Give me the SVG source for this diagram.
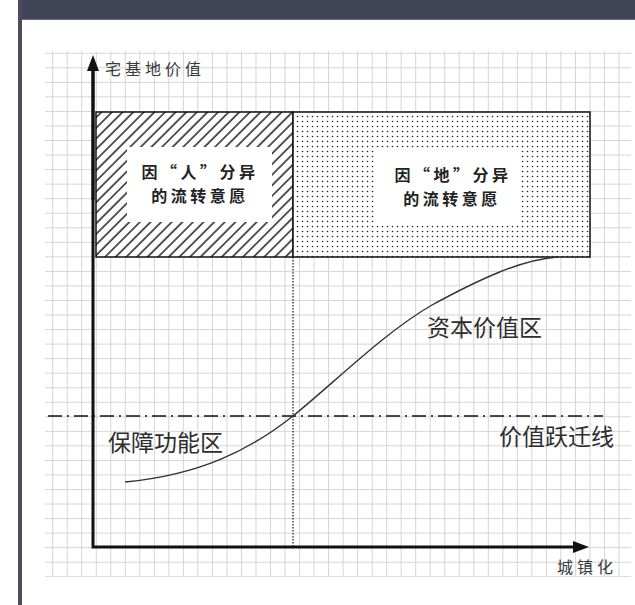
<svg xmlns="http://www.w3.org/2000/svg" width="635" height="605" viewBox="0 0 635 605">
  <style>
    .axis { stroke: #111; stroke-width: 3; fill: none; }
    .box { stroke: #111; stroke-width: 1.5; }
    .boxlbl { font-family: "Noto Sans CJK SC", "Noto Sans", sans-serif; font-size: 16px; font-weight: bold; fill: #222; letter-spacing: 3.5px; text-anchor: middle; }
    .axlbl { font-family: "Noto Sans CJK SC", "Noto Sans", sans-serif; font-size: 16px; fill: #3a3a3a; letter-spacing: 4px; }
    .zone { font-family: "Noto Sans CJK SC", "Noto Sans", sans-serif; font-size: 23px; fill: #2e2e2e; }
  </style>
  <defs>
    <pattern id="grid" patternUnits="userSpaceOnUse" x="52.2" y="52.8" width="14.52" height="14.54">
      <path d="M0.5 0 V14.54 M0 0.5 H14.52" stroke="#d4d4d4" stroke-width="1" fill="none"/>
    </pattern>
    <pattern id="hatch" patternUnits="userSpaceOnUse" width="7.5" height="7.5" patternTransform="rotate(45)">
      <rect width="7.5" height="7.5" fill="#fff"/>
      <line x1="1" y1="0" x2="1" y2="7.5" stroke="#222" stroke-width="1.5"/>
    </pattern>
    <pattern id="dots" patternUnits="userSpaceOnUse" x="295" y="114" width="5" height="5">
      <rect width="5" height="5" fill="#fff"/>
      <circle cx="2.5" cy="2.5" r="0.8" fill="#222"/>
    </pattern>
    <marker id="arrow" markerUnits="userSpaceOnUse" markerWidth="16" markerHeight="12" refX="0" refY="6" orient="auto">
      <path d="M0,0 L16,6 L0,12 z" fill="#111"/>
    </marker>
  </defs>

  <!-- frame -->
  <rect x="0" y="0" width="635" height="605" fill="#fff"/>
  <rect x="18" y="0" width="617" height="19" fill="#414356"/>
  <rect x="18" y="19" width="617" height="1" fill="#6b6d7d"/>
  <rect x="18" y="0" width="4" height="605" fill="#4a4c5f"/>

  <!-- grid -->
  <rect x="45" y="51" width="586" height="526" fill="url(#grid)"/>

  <!-- boxes -->
  <g id="box-ren">
    <rect class="box" x="96" y="112" width="197" height="145" fill="url(#hatch)"/>
    <rect x="127" y="147" width="145" height="75" fill="#fff"/>
    <text class="boxlbl" x="200" y="178">因“人”分异</text>
    <text class="boxlbl" x="200" y="202">的流转意愿</text>
  </g>
  <g id="box-di">
    <rect class="box" x="293" y="112" width="297" height="145" fill="url(#dots)"/>
    <rect x="375" y="149" width="145" height="74" fill="#fff"/>
    <text class="boxlbl" x="453" y="181">因“地”分异</text>
    <text class="boxlbl" x="452" y="205">的流转意愿</text>
  </g>

  <g id="connectors">
    <!-- vertical dotted divider -->
    <line x1="293" y1="257" x2="293" y2="546" stroke="#222" stroke-width="1.3" stroke-dasharray="1.5 1.5"/>
    <!-- value transition line -->
    <line x1="48" y1="416" x2="603" y2="416" stroke="#111" stroke-width="1.5" stroke-dasharray="14 5 2 5"/>
    <!-- S curve -->
    <path d="M125,482 C200,475 250,450 293,416 C335,382 385,332 432,305 C478,280 520,260 557,257" fill="none" stroke="#333" stroke-width="1.4"/>
    <!-- axes -->
    <path class="axis" d="M93,71 V547 H573" marker-end="url(#arrow)"/>
    <line class="axis" x1="93" y1="200" x2="93" y2="71" marker-end="url(#arrow)"/>
  </g>

  <g id="axis-labels">
    <text class="axlbl" x="105" y="75">宅基地价值</text>
    <text class="axlbl" x="557" y="573">城镇化</text>
  </g>

  <g id="zone-labels">
    <text class="zone" x="427" y="336">资本价值区</text>
    <text class="zone" x="108" y="451">保障功能区</text>
    <text class="zone" x="499" y="445">价值跃迁线</text>
  </g>
</svg>
